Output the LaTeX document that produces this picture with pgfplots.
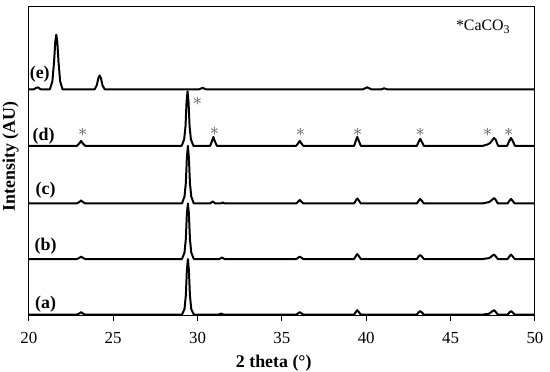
\documentclass[border=0pt]{standalone}
\usepackage{fontspec}
\setmainfont{Liberation Serif}
\usepackage{pgfplots}
\pgfplotsset{compat=1.18}
\definecolor{starGray}{RGB}{85,85,85}

\newcommand{\lbl}{\fontsize{9pt}{10.5pt}\selectfont}
\newcommand{\tlbl}{\fontsize{8.5pt}{10pt}\selectfont}
\tikzset{
  caStar/.style={text=starGray, font=\fontsize{9pt}{10pt}\selectfont, inner sep=0pt},
  xrd/.style={black, line width=1pt, line join=round, mark=none},
}

\begin{document}
\begin{tikzpicture}
\begin{axis}[
    scale only axis,
    width=255pt, height=155.5pt,
    xmin=20, xmax=50, ymin=0, ymax=311,
    xtick={20,25,...,50},
    ytick=\empty,
    xtick pos=bottom,
    tick align=outside,
    major tick length=2.5pt,
    axis line style={line width=0.5pt},
    tick style={line width=0.5pt, black},
    /pgf/number format/assume math mode=true,
    tick label style={font=\tlbl},
    xticklabel style={yshift=-2.5pt},
    xlabel={\textbf{2 theta (°)}},
    ylabel={\textbf{Intensity (AU)}},
    label style={font=\lbl, inner sep=0pt},
    xlabel style={at={(axis description cs:0.484,-0.154)}, anchor=center},
    ylabel style={at={(axis description cs:-0.036,0.515)}, anchor=center},
    clip=false,
]
% (a)
\addplot[xrd] coordinates {
(20,1) (22.85,1) (23.0,2.2) (23.1,3.5) (23.2,2.2) (23.35,1) (29.08,1) (29.23,6.6) (29.31,20.6) (29.37,45.8) (29.43,57) (29.49,45.8) (29.55,20.6) (29.63,6.6) (29.78,1) (31.25,1) (31.4,2) (31.55,1) (35.85,1) (35.98,2.5) (36.06,3.5) (36.14,2.5) (36.27,1) (39.28,1) (39.4,4) (39.47,5.5) (39.54,4) (39.68,1) (43.0,1) (43.12,3.5) (43.2,4.5) (43.28,3.5) (43.42,1) (46.9,1) (47.3,2) (47.48,4.5) (47.58,5.5) (47.66,4) (47.8,1) (48.38,1) (48.5,3.5) (48.58,4.5) (48.66,3.5) (48.8,1) (50,1)
};
% (b)
\addplot[xrd] coordinates {
(20,57) (22.85,57) (23.0,58.2) (23.1,59.5) (23.2,58.2) (23.35,57) (29.08,57) (29.23,63.6) (29.31,77.6) (29.37,102.8) (29.43,113) (29.49,102.8) (29.55,77.6) (29.63,63.6) (29.78,57) (31.3,57) (31.45,58.5) (31.6,57) (35.85,57) (35.98,58.5) (36.06,59.5) (36.14,58.5) (36.27,57) (39.28,57) (39.4,60.5) (39.47,62) (39.54,60.5) (39.68,57) (43.0,57) (43.12,60) (43.2,61) (43.28,60) (43.42,57) (46.9,57) (47.3,58) (47.48,60.5) (47.58,61.5) (47.66,60) (47.8,57) (48.38,57) (48.5,60) (48.58,61.5) (48.66,60) (48.8,57) (50,57)
};
% (c)
\addplot[xrd] coordinates {
(20,113) (22.85,113) (23.0,114.5) (23.1,116) (23.2,114.5) (23.35,113) (29.08,113) (29.23,120) (29.31,134) (29.37,159) (29.43,171) (29.49,159) (29.55,134) (29.63,120) (29.78,113) (30.75,113) (30.9,115) (31.05,113) (31.4,113) (31.5,114) (31.6,113) (35.85,113) (35.98,115) (36.06,116.5) (36.14,115) (36.27,113) (39.28,113) (39.4,116.5) (39.47,118) (39.54,116.5) (39.68,113) (43.0,113) (43.12,116) (43.2,117.5) (43.28,116) (43.42,113) (46.9,113) (47.3,114.5) (47.48,117) (47.58,118.5) (47.66,117) (47.8,113) (48.38,113) (48.5,116) (48.58,117.5) (48.66,116) (48.8,113) (50,113)
};
% (d)
\addplot[xrd] coordinates {
(20,171) (22.85,171) (23.0,173.5) (23.1,176) (23.2,173.5) (23.35,171) (29.06,171) (29.21,177.5) (29.29,191) (29.35,215) (29.41,226) (29.47,215) (29.53,191) (29.61,177.5) (29.76,171) (30.75,171) (30.86,176) (30.94,180) (31.02,176) (31.15,171) (35.85,171) (35.98,174) (36.06,176) (36.14,174) (36.27,171) (39.28,171) (39.4,177) (39.47,180) (39.54,177) (39.68,171) (43.0,171) (43.12,175.5) (43.2,178) (43.28,175.5) (43.42,171) (46.9,171) (47.2,172.5) (47.35,174) (47.48,177) (47.58,179) (47.68,177) (47.82,171) (48.35,171) (48.48,176) (48.58,179) (48.68,176) (48.82,171) (50,171)
};
% (e)
\addplot[xrd] coordinates {
(20,228) (20.3,228) (20.45,229.5) (20.55,230) (20.7,228) (21.25,228) (21.4,236) (21.5,256) (21.57,276) (21.63,283) (21.69,276) (21.76,256) (21.86,236) (22.0,228) (23.9,228) (24.03,232) (24.12,239) (24.2,242) (24.28,239) (24.37,232) (24.5,228) (30.1,228) (30.3,229.5) (30.5,228) (39.8,228) (40.06,230) (40.3,228) (40.9,228) (41.06,229) (41.25,228) (50,228)
};

% sample labels
\node[font=\lbl\bfseries] at (axis cs:21.0,11) {(a)};
\node[font=\lbl\bfseries] at (axis cs:21.0,70) {(b)};
\node[font=\lbl\bfseries] at (axis cs:21.0,126) {(c)};
\node[font=\lbl\bfseries] at (axis cs:20.88,181) {(d)};
\node[font=\lbl\bfseries] at (axis cs:20.65,243) {(e)};

% CaCO3 markers
\node[caStar] at (axis cs:23.2,185) {$\ast$};
\node[caStar] at (axis cs:30.0,216) {$\ast$};
\node[caStar] at (axis cs:31.0,186) {$\ast$};
\node[caStar] at (axis cs:36.1,185) {$\ast$};
\node[caStar] at (axis cs:39.5,185) {$\ast$};
\node[caStar] at (axis cs:43.2,185) {$\ast$};
\node[caStar] at (axis cs:47.2,185) {$\ast$};
\node[caStar] at (axis cs:48.45,185) {$\ast$};
\node[font=\fontsize{8pt}{9.5pt}\selectfont] at (axis cs:46.94,291) {*CaCO\textsubscript{3}};
\end{axis}
\path ([xshift=-14.5pt,yshift=-28pt]current axis.south west) rectangle ([xshift=5.5pt,yshift=3.5pt]current axis.north east);
\end{tikzpicture}
\end{document}
